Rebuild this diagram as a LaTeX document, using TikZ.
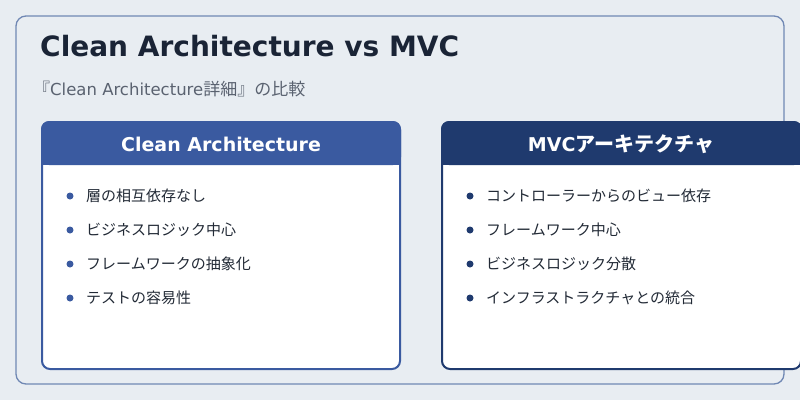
\documentclass[tikz,border=0pt]{standalone}
\usepackage{fontspec}
\setmainfont{Noto Sans CJK JP}
\newfontfamily\lat{DejaVu Sans}
\definecolor{bg}{HTML}{E8EDF2}
\definecolor{frame}{HTML}{7088B4}
\definecolor{titlec}{HTML}{1A2436}
\definecolor{subc}{HTML}{5A6270}
\definecolor{leftc}{HTML}{3A5AA0}
\definecolor{rightc}{HTML}{1F3A6E}
\definecolor{txt}{HTML}{222A36}
\tikzset{
 card/.style={draw=#1,line width=2pt,fill=white,rounded corners=8pt},
 head/.style={text=white,font=\fontsize{20}{24}\selectfont\bfseries},
 item/.style={anchor=west,text=txt,font=\fontsize{15}{17}\selectfont,inner sep=0pt},
 dot/.style={circle,fill=#1,inner sep=0pt,minimum size=7pt},
}
\begin{document}
\begin{tikzpicture}[x=1pt,y=-1pt]
\useasboundingbox (0,0) rectangle (800,400);
\fill[bg] (0,0) rectangle (800,400);
\draw[frame,line width=1.3pt,rounded corners=10pt,fill=bg] (16,16) rectangle (784,384);
\node[anchor=west,text=titlec,font=\lat\fontsize{28}{32}\selectfont\bfseries,inner sep=0pt] (t) at (40,46) {Clean Architecture vs MVC};
\node[anchor=west,text=subc,font=\fontsize{17}{20}\selectfont,inner sep=0pt] (s) at (33,89) {『{\lat\fontsize{16.5}{20}\selectfont Clean Architecture}詳細』の比較};
% left card
\draw[card=leftc] (42,122) rectangle (400,369);
\fill[leftc,rounded corners=8pt] (41,121) rectangle (401,165);
\fill[leftc] (41,150) rectangle (401,165);
\node[head,font=\lat\fontsize{19}{24}\selectfont\bfseries] (lh) at (221,144) {Clean Architecture};
% right card
\draw[card=rightc] (442,122) rectangle (801,369);
\fill[rightc,rounded corners=8pt] (441,121) rectangle (802,165);
\fill[rightc] (441,150) rectangle (802,165);
\node[head] (rh) at (621,144) {{\lat\fontsize{19}{24}\selectfont MVC}アーキテクチャ};
\foreach \t [count=\i] in {層の相互依存なし,ビジネスロジック中心,フレームワークの抽象化,テストの容易性}{
 \node[dot=leftc] (ld\i) at (70,196+34*\i-34) {};
 \node[item] (li\i) at (86,196+34*\i-34) {\t};
}
\foreach \t [count=\i] in {コントローラーからのビュー依存,フレームワーク中心,ビジネスロジック分散,インフラストラクチャとの統合}{
 \node[dot=rightc] (rd\i) at (470,196+34*\i-34) {};
 \node[item] (ri\i) at (486,196+34*\i-34) {\t};
}
\end{tikzpicture}
\end{document}
